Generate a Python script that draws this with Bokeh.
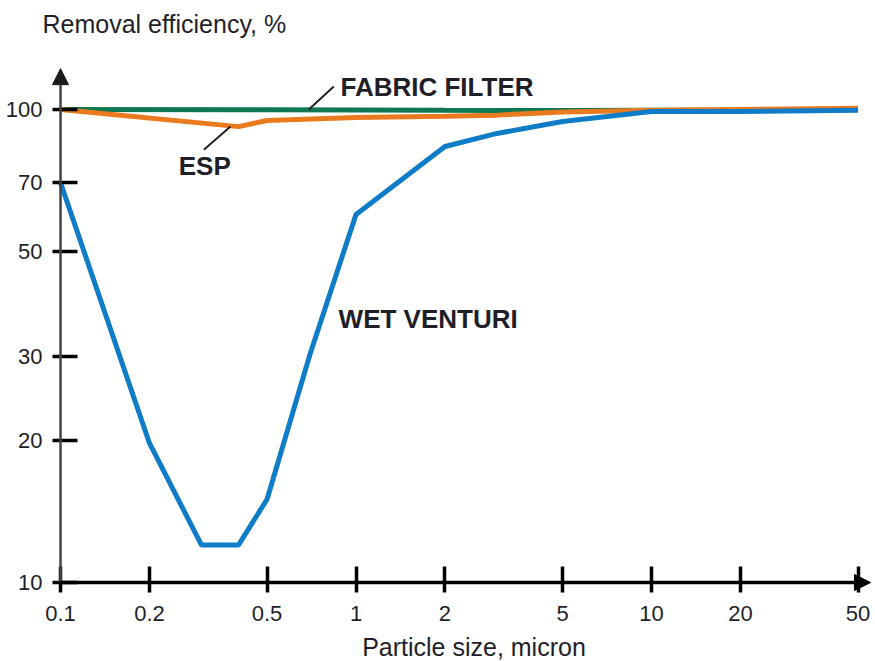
from bokeh.plotting import figure
from bokeh.models import (Range1d, FixedTicker, CustomJSTickFormatter, Arrow, NormalHead,
                          Label)
from bokeh.embed import file_html
from bokeh.resources import INLINE

# ---------------- data ----------------
x_ticks = [0.1, 0.2, 0.5, 1, 2, 5, 10, 20, 50]
x_tick_labels = ["0.1", "0.2", "0.5", "1", "2", "5", "10", "20", "50"]
y_ticks = [10, 20, 30, 50, 70, 100]
y_tick_labels = ["10", "20", "30", "50", "70", "100"]

venturi_size = [0.1, 0.2, 0.3, 0.4, 0.5, 0.7, 1, 2, 3, 5, 10, 20, 50]
venturi_eff = [70, 19.7, 12.0, 12.0, 15.0, 30.5, 60, 83.5, 89, 94.3, 99.0, 99.0, 99.6]

esp_size = [0.1, 0.4, 0.5, 1, 2, 3, 5, 10, 20, 50]
esp_eff = [100, 92.0, 94.8, 96.2, 96.8, 97.3, 98.8, 99.6, 100, 100.6]

fabric_size = [0.1, 0.5, 1, 2, 3, 5, 10, 20, 50]
fabric_eff = [100, 99.9, 99.8, 99.6, 99.5, 99.5, 99.6, 99.7, 100.3]

series_names = ["FABRIC FILTER", "ESP", "WET VENTURI"]
# label anchors (left / baseline) and leader lines in data units
label_x = [0.886, 0.2513, 0.873]
label_y = [111.8, 76.1, 36.15]
leader_x0 = [0.692, 0.3055]
leader_y0 = [100.0, 82.2]
leader_x1 = [0.841, 0.376]
leader_y1 = [111.8, 92.1]

x_title = "Particle size, micron"
y_title = "Removal efficiency, %"

# ---------------- styles ----------------
FONT = "Liberation Sans"
TXT = "#1f1f29"
BLUE = "#0f7cc7"
ORANGE = "#ea7a1e"
GREEN = "#0f7850"

p = figure(width=875, height=661, x_axis_type="log", y_axis_type="log",
           x_range=Range1d(0.06264, 57.28), y_range=Range1d(6.808, 170.0),
           output_backend="svg", toolbar_location=None, title=None,
           min_border_left=0, min_border_right=0, min_border_top=0, min_border_bottom=0)
p.outline_line_color = None
p.grid.visible = False
p.background_fill_color = "white"
p.border_fill_color = "white"

fmt_code = """
let best = 0;
for (let i = 0; i < tvals.length; i++) {
  if (Math.abs(Math.log(tvals[i] / tick)) < Math.abs(Math.log(tvals[best] / tick))) best = i;
}
return tlabels[best];
"""

xa = p.xaxis[0]
xa.fixed_location = 10
xa.ticker = FixedTicker(ticks=x_ticks)
xa.formatter = CustomJSTickFormatter(args=dict(tvals=x_ticks, tlabels=x_tick_labels), code=fmt_code)
xa.axis_line_color = None
xa.major_tick_in = 16
xa.major_tick_out = 10
xa.major_tick_line_width = 3.5
xa.major_tick_line_color = "black"
xa.minor_tick_line_color = None
xa.major_label_standoff = 13
xa.major_label_text_font = FONT
xa.major_label_text_font_size = "22px"
xa.major_label_text_color = TXT

ya = p.yaxis[0]
ya.fixed_location = 0.1
ya.ticker = FixedTicker(ticks=y_ticks)
ya.formatter = CustomJSTickFormatter(args=dict(tvals=y_ticks, tlabels=y_tick_labels), code=fmt_code)
ya.axis_line_color = None
ya.major_tick_in = 17
ya.major_tick_out = 8
ya.major_tick_line_width = 3.5
ya.major_tick_line_color = "black"
ya.minor_tick_line_color = None
ya.major_label_standoff = 10
ya.major_label_text_font = FONT
ya.major_label_text_font_size = "22px"
ya.major_label_text_color = TXT

# axis lines with arrow heads
p.add_layout(Arrow(end=NormalHead(size=16, fill_color="#1a1a1a", line_color="#1a1a1a"),
                   x_start=0.1, y_start=10, x_end=0.1, y_end=122,
                   line_color="#444444", line_width=2.5))
p.add_layout(Arrow(end=NormalHead(size=16, fill_color="black", line_color="black"),
                   x_start=0.1, y_start=10, x_end=55.1, y_end=10,
                   line_color="black", line_width=3.5))

# series lines
p.line(fabric_size, fabric_eff, line_color=GREEN, line_width=5)
p.line(esp_size, esp_eff, line_color=ORANGE, line_width=5)
p.line(venturi_size, venturi_eff, line_color=BLUE, line_width=5)

# leader lines
p.segment(x0=leader_x0, y0=leader_y0, x1=leader_x1, y1=leader_y1,
          line_color="#222222", line_width=2)

# series labels
for name, lx, ly in zip(series_names, label_x, label_y):
    p.add_layout(Label(x=lx, y=ly, text=name, text_font=FONT, text_font_style="bold",
                       text_font_size="26px", text_color=TXT,
                       text_align="left", text_baseline="alphabetic"))

# axis titles
p.add_layout(Label(x=2.507, y=10, y_offset=-64, text=x_title, text_font=FONT,
                   text_font_size="25px", text_color=TXT,
                   text_align="center", text_baseline="alphabetic"))
p.add_layout(Label(x=0.1, y=100, x_offset=-18, y_offset=86, text=y_title, text_font=FONT,
                   text_font_size="25px", text_color=TXT,
                   text_align="left", text_baseline="alphabetic"))

open("out.html", "w").write(file_html(p, INLINE))
